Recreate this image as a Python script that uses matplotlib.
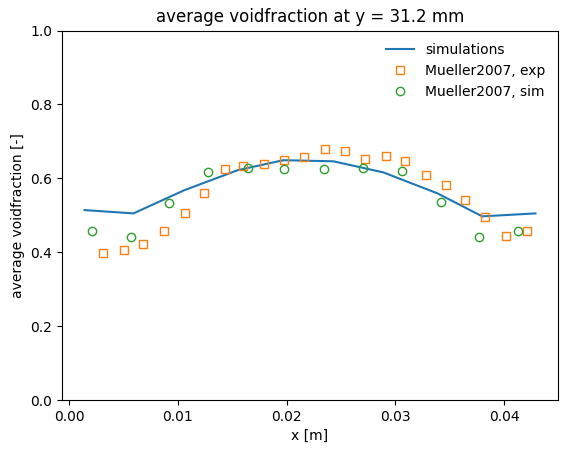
import matplotlib
matplotlib.use("Agg")
import matplotlib.pyplot as plt

# simulation profile
sim_x = [0.0014, 0.0059, 0.0106, 0.0155, 0.0197, 0.0243, 0.0289, 0.0339, 0.0380, 0.0429]
sim_y = [0.514, 0.505, 0.568, 0.622, 0.649, 0.646, 0.616, 0.559, 0.497, 0.505]

# Mueller2007 experiment
exp_x = [0.0031, 0.0050, 0.0068, 0.0087, 0.0106, 0.0124, 0.0143, 0.0160, 0.0179,
         0.0198, 0.0216, 0.0235, 0.0254, 0.0272, 0.0291, 0.0309, 0.0328, 0.0347,
         0.0364, 0.0383, 0.0402, 0.0421]
exp_y = [0.399, 0.405, 0.421, 0.457, 0.507, 0.559, 0.626, 0.632, 0.640,
         0.649, 0.657, 0.680, 0.673, 0.651, 0.659, 0.646, 0.608, 0.581,
         0.542, 0.494, 0.443, 0.457]

# Mueller2007 simulation
mue_x = [0.0021, 0.0057, 0.0092, 0.0128, 0.0164, 0.0198, 0.0234, 0.0270,
         0.0306, 0.0342, 0.0377, 0.0413]
mue_y = [0.457, 0.440, 0.534, 0.617, 0.629, 0.626, 0.626, 0.629,
         0.621, 0.535, 0.440, 0.457]

fig = plt.figure(figsize=(5.67, 4.53), dpi=100)
ax = fig.add_axes([62 / 567, 53 / 453, 496 / 567, 369.5 / 453])

ax.plot(sim_x, sim_y, label="simulations")
ax.plot(exp_x, exp_y, "s", mfc="none", color="C1", label="Mueller2007, exp")
ax.plot(mue_x, mue_y, "o", mfc="none", color="C2", label="Mueller2007, sim")

ax.set_ylim(0, 1)
ax.set_xlabel("x [m]")
ax.set_ylabel("average voidfraction [-]")
ax.set_title("average voidfraction at y = 31.2 mm")
ax.legend(frameon=False, loc="upper right")

fig.savefig("out.png", dpi=100)
plt.close()
